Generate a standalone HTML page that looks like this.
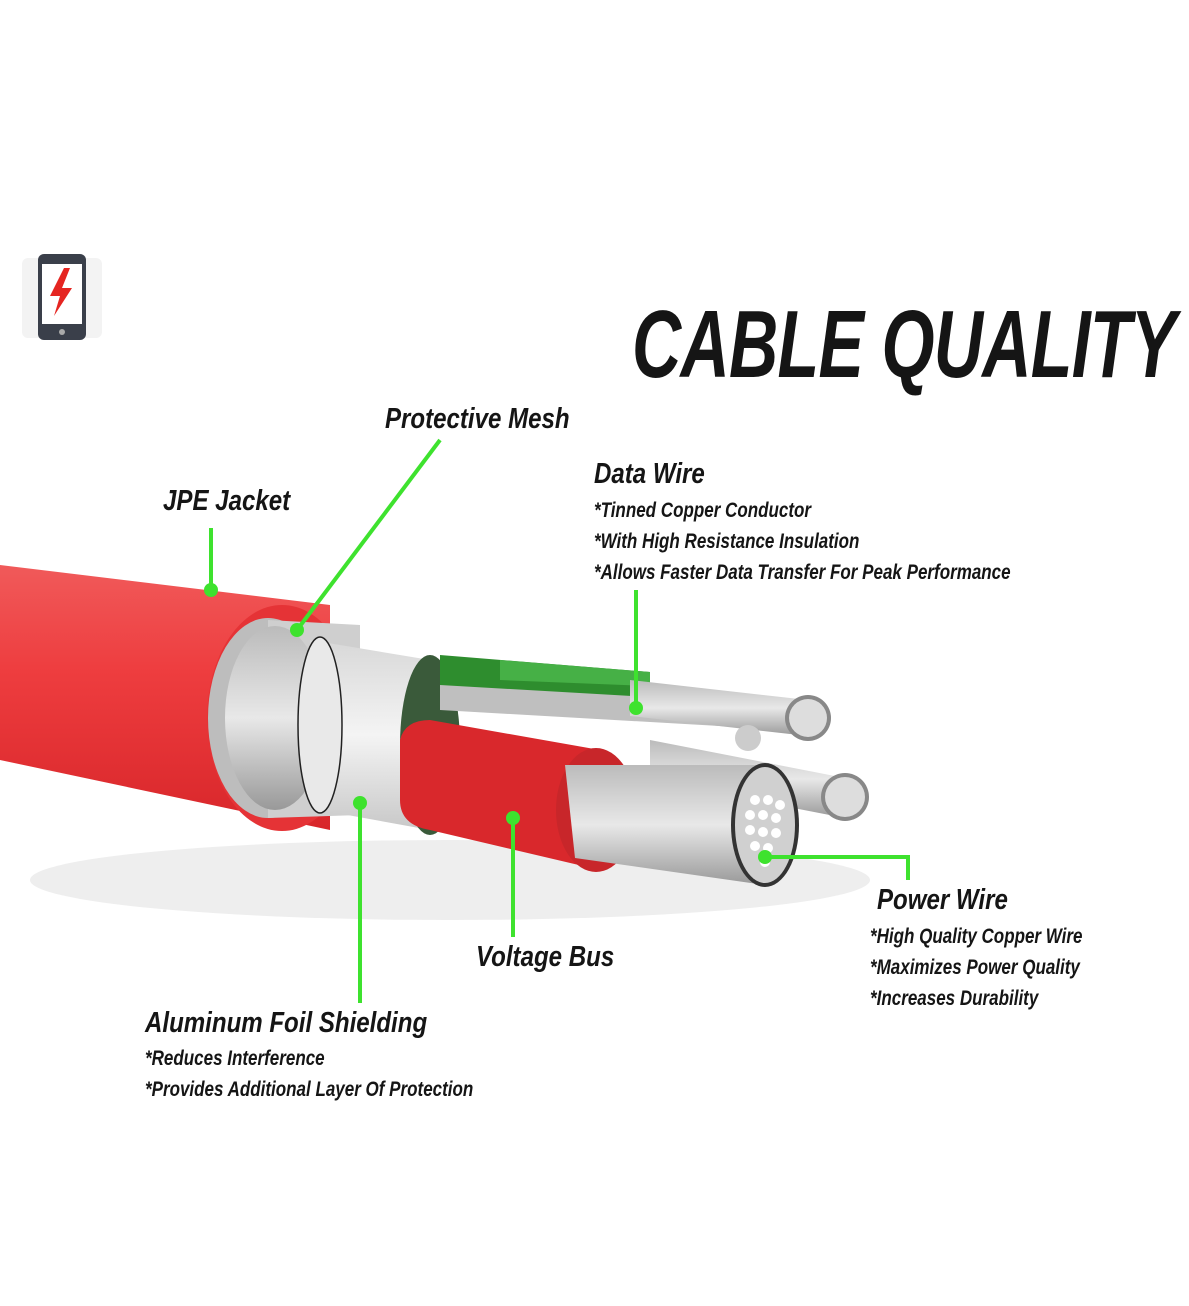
<!DOCTYPE html>
<html><head><meta charset="utf-8"><style>
html,body{margin:0;padding:0;background:#fff;}
body{width:1189px;height:1306px;position:relative;overflow:hidden;font-family:"Liberation Sans",sans-serif;}
.t{position:absolute;font-weight:bold;font-style:italic;color:#151515;white-space:nowrap;transform-origin:0 0;}
.h{font-size:29px;transform:scaleX(0.83);}
.s{font-size:21px;transform:scaleX(0.81);line-height:31px;}
</style></head><body>
<svg width="1189" height="1306" style="position:absolute;left:0;top:0">
<defs>
<linearGradient id="red" x1="0" y1="0" x2="0" y2="1"><stop offset="0" stop-color="#f05a5a"/><stop offset=".4" stop-color="#ee3d3f"/><stop offset="1" stop-color="#d8262a"/></linearGradient>
<linearGradient id="sil" x1="0" y1="0" x2="0" y2="1"><stop offset="0" stop-color="#bbb"/><stop offset=".5" stop-color="#e8e8e8"/><stop offset="1" stop-color="#999"/></linearGradient>
<linearGradient id="foil" x1="0" y1="0" x2="0" y2="1"><stop offset="0" stop-color="#d8d8d8"/><stop offset=".5" stop-color="#f4f4f4"/><stop offset="1" stop-color="#c8c8c8"/></linearGradient>
</defs>
<rect x="22" y="258" width="80" height="80" rx="6" fill="#f3f3f3"/>
<rect x="38" y="254" width="48" height="86" rx="6" fill="#3a3f4a"/>
<rect x="42" y="264" width="40" height="60" fill="#fff"/>
<polygon points="64,268 50,296 60,296 54,316 72,288 62,288 70,268" fill="#e52521"/>
<circle cx="62" cy="332" r="3" fill="#aaa"/>
<ellipse cx="450" cy="880" rx="420" ry="40" fill="#eee"/>
<path d="M0,565 L330,605 L330,830 L0,760 Z" fill="url(#red)"/>
<ellipse cx="282" cy="718" rx="75" ry="113" fill="#e53336"/>
<ellipse cx="268" cy="718" rx="60" ry="100" fill="#bdbdbd"/>
<path d="M268,620 L360,625 L360,815 L268,818 Z" fill="#cfcfcf"/>
<ellipse cx="275" cy="718" rx="50" ry="92" fill="url(#sil)"/>
<path d="M310,640 L430,660 L430,830 L320,810 Z" fill="url(#foil)"/>
<ellipse cx="320" cy="725" rx="22" ry="88" fill="#e9e9e9" stroke="#222" stroke-width="1.5"/>
<ellipse cx="430" cy="745" rx="30" ry="90" fill="#3a5a3a"/>
<path d="M440,655 L650,672 L650,700 L440,700 Z" fill="#2e8d2e"/>
<path d="M500,660 L650,672 L650,686 L500,680 Z" fill="#46b046"/>
<path d="M440,685 L790,705 L790,730 L440,710 Z" fill="#bfbfbf"/>
<path d="M630,680 L808,700 L808,736 L630,716 Z" fill="url(#sil)"/>
<circle cx="808" cy="718" r="23" fill="#888"/>
<circle cx="808" cy="718" r="19" fill="#ddd"/>
<circle cx="748" cy="738" r="13" fill="#ccc"/>
<path d="M650,740 L845,778 L845,818 L650,780 Z" fill="url(#sil)"/>
<circle cx="845" cy="797" r="24" fill="#888"/>
<circle cx="845" cy="797" r="20" fill="#ddd"/>
<path d="M400,740 Q405,720 430,720 L600,750 L600,870 L430,830 Q400,825 400,800 Z" fill="#d9282c"/>
<ellipse cx="596" cy="810" rx="40" ry="62" fill="#c8262a"/>
<path d="M565,765 L765,765 L765,885 L575,858 Z" fill="url(#sil)"/>
<ellipse cx="765" cy="825" rx="34" ry="62" fill="#333"/>
<ellipse cx="765" cy="825" rx="30" ry="58" fill="#d0d0d0"/>
<g fill="#fff">
<circle cx="755" cy="800" r="5"/><circle cx="768" cy="800" r="5"/><circle cx="780" cy="805" r="5"/>
<circle cx="750" cy="815" r="5"/><circle cx="763" cy="815" r="5"/><circle cx="776" cy="818" r="5"/>
<circle cx="750" cy="830" r="5"/><circle cx="763" cy="832" r="5"/><circle cx="776" cy="833" r="5"/>
<circle cx="755" cy="846" r="5"/><circle cx="768" cy="848" r="5"/><circle cx="765" cy="862" r="5"/>
</g>
<g stroke="#3ee22e" stroke-width="4" fill="none">
<line x1="211" y1="528" x2="211" y2="590"/>
<line x1="440" y1="440" x2="297" y2="630"/>
<line x1="636" y1="590" x2="636" y2="708"/>
<polyline points="765,857 908,857 908,880"/>
<line x1="513" y1="818" x2="513" y2="937"/>
<line x1="360" y1="803" x2="360" y2="1003"/>
</g>
<g fill="#3ee22e">
<circle cx="211" cy="590" r="7"/><circle cx="297" cy="630" r="7"/><circle cx="636" cy="708" r="7"/>
<circle cx="765" cy="857" r="7"/><circle cx="513" cy="818" r="7"/><circle cx="360" cy="803" r="7"/>
</g>
</svg>
<div class="t" style="left:632px;top:290px;font-size:96px;transform:scaleX(0.71);letter-spacing:-1px;">CABLE QUALITY</div>
<div class="t h" style="left:385px;top:403px;">Protective Mesh</div>
<div class="t h" style="left:163px;top:485px;">JPE Jacket</div>
<div class="t h" style="left:594px;top:458px;">Data Wire</div>
<div class="t s" style="left:594px;top:495px;">*Tinned Copper Conductor<br>*With High Resistance Insulation<br>*Allows Faster Data Transfer For Peak Performance</div>
<div class="t h" style="left:877px;top:884px;">Power Wire</div>
<div class="t s" style="left:870px;top:921px;">*High Quality Copper Wire<br>*Maximizes Power Quality<br>*Increases Durability</div>
<div class="t h" style="left:476px;top:941px;">Voltage Bus</div>
<div class="t h" style="left:145px;top:1007px;">Aluminum Foil Shielding</div>
<div class="t s" style="left:145px;top:1043px;">*Reduces Interference<br>*Provides Additional Layer Of Protection</div>
</body></html>
